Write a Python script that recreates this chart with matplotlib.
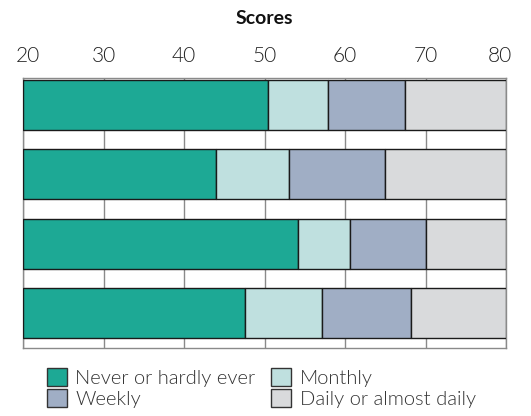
import numpy as np
import matplotlib
matplotlib.use("Agg")
import matplotlib.pyplot as plt
import matplotlib.transforms as mtransforms
from matplotlib.patches import Patch

plt.rcParams['font.family'] = ['Lato', 'DejaVu Sans']

# segment values (score points)
rows = ['A', 'B', 'C', 'D']
never = [50.4, 44.0, 54.1, 47.6]
monthly = [7.5, 9.1, 6.5, 9.6]
weekly = [9.5, 11.9, 9.4, 11.0]
daily = [12.6, 15.0, 10.0, 11.8]
xticks = [20, 30, 40, 50, 60, 70, 80]

labels = ['Never or hardly ever', 'Monthly', 'Weekly', 'Daily or almost daily']
colors = ['#1DA995', '#BFE0DF', '#A0AEC5', '#D9DADC']

xmin, xmax = 20, 80

fig = plt.figure(figsize=(5.31, 4.16), dpi=100)
ax = fig.add_axes([0.0433, 0.1635, 0.9097, 0.649])

y = np.arange(len(rows))
left = np.full(len(rows), float(xmin))
for vals, col in zip([never, monthly, weekly, daily], colors):
    vals = np.array(vals, dtype=float)
    if col == colors[0]:
        w = vals - xmin
    else:
        w = vals
    ax.barh(y, w, left=left, height=0.72, color=col, edgecolor='#1a1a1a',
            linewidth=1.0, zorder=3)
    left = left + w

ax.set_xlim(xmin, xmax)
ax.set_ylim(3.5, -0.39)
ax.set_yticks([])
ax.set_xticks(xticks)
ax.xaxis.tick_top()
ax.tick_params(axis='x', length=0, pad=9, labelsize=15, colors='#222222')
for lab in ax.get_xticklabels():
    lab.set_fontweight(300)
ticklabs = ax.get_xticklabels()
ticklabs[0].set_transform(ticklabs[0].get_transform() +
                          mtransforms.ScaledTranslation(5 / 100, 0, fig.dpi_scale_trans))
ticklabs[-1].set_transform(ticklabs[-1].get_transform() +
                           mtransforms.ScaledTranslation(-6 / 100, 0, fig.dpi_scale_trans))

ax.grid(axis='x', color='#8a8a8a', linewidth=1.0, zorder=0)
for s in ax.spines.values():
    s.set_color('#8a8a8a')
    s.set_linewidth(1.0)

fig.text(0.497, 0.955, 'Scores', ha='center', va='center', fontsize=14,
         fontweight='bold', color='#111111')

handles = [Patch(facecolor=c, edgecolor='#333333', linewidth=1.0) for c in colors]
order = [0, 2, 1, 3]
leg = fig.legend([handles[i] for i in order], [labels[i] for i in order],
                 ncol=2, loc='center', bbox_to_anchor=(0.492, 0.068),
                 frameon=False, handlelength=1.0, handleheight=1.0,
                 handletextpad=0.4, columnspacing=0.8, labelspacing=0.1,
                 prop={'weight': 300, 'size': 14.5})
for t in leg.get_texts():
    t.set_color('#333333')

fig.savefig('out.png', dpi=100)
